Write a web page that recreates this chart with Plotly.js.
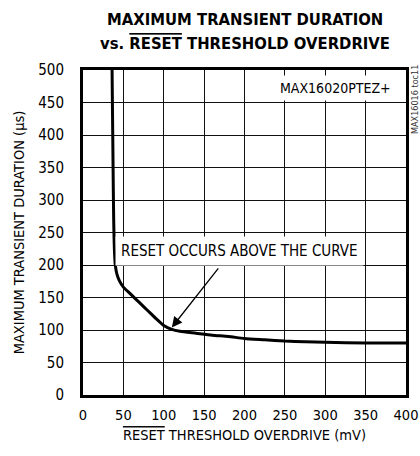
<!DOCTYPE html>
<html>
<head>
<meta charset="utf-8">
<script src="https://cdn.plot.ly/plotly-3.0.1.min.js"></script>
<style>html,body{margin:0;padding:0;background:#fff;}#chart{width:420px;height:456px;}</style>
</head>
<body>
<div id="chart"></div>
<script>
// Data
const overdrive_mV = [36, 36.5, 37, 37.5, 38, 38.5, 39, 40, 42, 45, 50, 60, 70, 80, 90, 100, 110, 120, 140, 160, 180, 200, 225, 250, 275, 300, 350, 400];
const duration_us  = [500, 440, 380, 320, 270, 240, 220, 200, 186, 176, 166, 154, 142, 130, 118, 107, 101, 98, 95, 92, 90, 87, 85, 83, 82, 81, 80, 80];
const xTicks = [0, 50, 100, 150, 200, 250, 300, 350, 400];
const yTicks = [0, 50, 100, 150, 200, 250, 300, 350, 400, 450, 500];

const FONT = '"DejaVu Sans Condensed", "Liberation Sans Narrow", "Liberation Sans", sans-serif';

const trace = {
  x: overdrive_mV,
  y: duration_us,
  type: 'scatter',
  mode: 'lines',
  line: {color: '#000', width: 3, shape: 'spline', smoothing: 0.6},
  hoverinfo: 'skip'
};

const layout = {
  width: 420,
  height: 456,
  margin: {l: 83, r: 14, t: 70, b: 61},
  paper_bgcolor: '#fff',
  plot_bgcolor: '#fff',
  showlegend: false,
  font: {family: FONT, size: 15, color: '#000'},
  xaxis: {
    range: [0, 400],
    tickvals: xTicks,
    ticktext: xTicks.map(String),
    showgrid: true, gridcolor: '#111', gridwidth: 1,
    zeroline: false,
    showline: true, linecolor: '#000', linewidth: 3, mirror: true,
    ticks: '', ticklabelstandoff: 5, ticklabeloverflow: 'allow',
    tickfont: {family: FONT, size: 14.5, color: '#000'},
    title: {text: '<span style="text-decoration:overline">RESET</span> THRESHOLD OVERDRIVE (mV)', font: {family: FONT, size: 14.5, color: '#000'}, standoff: 8},
    fixedrange: true
  },
  yaxis: {
    range: [0, 500],
    tickvals: yTicks,
    ticktext: yTicks.map(String),
    showgrid: true, gridcolor: '#111', gridwidth: 1,
    zeroline: false,
    showline: true, linecolor: '#000', linewidth: 3, mirror: true,
    ticks: '', ticklabelstandoff: 13,
    tickfont: {family: FONT, size: 15, color: '#000'},
    title: {text: 'MAXIMUM TRANSIENT DURATION (µs)', font: {family: FONT, size: 14.5, color: '#000'}, standoff: 11},
    fixedrange: true
  },
  annotations: [
    {
      text: '<b>MAXIMUM TRANSIENT DURATION</b>', x: 0.5, y: 1.154, xref: 'paper', yref: 'paper',
      xanchor: 'center', yanchor: 'middle', showarrow: false,
      font: {family: FONT, size: 16.5, color: '#000'}
    },
    {
      text: '<b>vs. <span style="text-decoration:overline">RESET</span> THRESHOLD OVERDRIVE</b>', x: 0.5, y: 1.08, xref: 'paper', yref: 'paper',
      xanchor: 'center', yanchor: 'middle', showarrow: false,
      font: {family: FONT, size: 16.5, color: '#000'}
    },
    {
      text: 'MAX16020PTEZ+', x: 388, y: 472, xref: 'x', yref: 'y',
      xanchor: 'right', yanchor: 'middle', showarrow: false,
      bgcolor: '#fff', borderpad: 4,
      font: {family: FONT, size: 14, color: '#000'}
    },
    {
      text: 'RESET OCCURS ABOVE THE CURVE', x: 194, y: 221, xref: 'x', yref: 'y',
      xanchor: 'center', yanchor: 'middle', showarrow: false,
      bgcolor: '#fff', borderpad: 5,
      font: {family: FONT, size: 15, color: '#000'}
    },
    {
      text: '', x: 110, y: 104, xref: 'x', yref: 'y',
      ax: 169, ay: 197, axref: 'x', ayref: 'y',
      showarrow: true, arrowhead: 2, arrowsize: 1.6, arrowwidth: 1.3, arrowcolor: '#000',
      standoff: 0
    },
    {
      text: 'MAX16016 toc11', x: 1.03, y: 0.91, xref: 'paper', yref: 'paper',
      textangle: -90, showarrow: false, xanchor: 'center', yanchor: 'middle',
      font: {family: FONT, size: 9, color: '#333'}
    }
  ]
};

Plotly.newPlot('chart', [trace], layout, {staticPlot: true, displayModeBar: false});
</script>
</body>
</html>
